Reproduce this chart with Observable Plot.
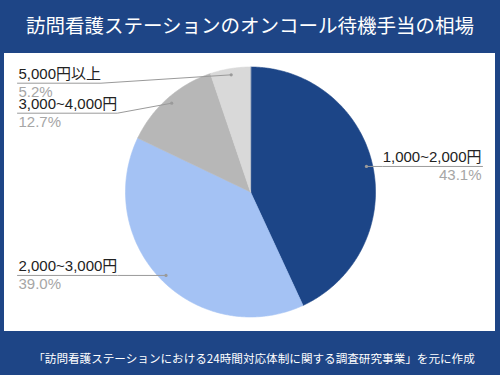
<!DOCTYPE html>
<html>
<head>
<meta charset="utf-8">
<script src="https://cdn.jsdelivr.net/npm/d3@7"></script>
<script src="https://cdn.jsdelivr.net/npm/@observablehq/plot@0.6"></script>
<style>
  html, body { margin: 0; padding: 0; }
  body { width: 500px; height: 375px; background: #1e4586; overflow: hidden; }
  #title { height: 53px; line-height: 50px; text-align: center; color: #fff;
           font-family: "Noto Sans CJK JP", sans-serif; font-size: 19.5px; font-weight: 400; }
  #chart { margin-left: 4px; width: 491px; height: 278px; background: #fff; }
  #chart svg { display: block; }
  #caption { height: 44px; line-height: 54px; text-align: center; color: #fff; padding-left: 8px;
             font-family: "Noto Sans CJK JP", sans-serif; font-size: 11.6px; font-weight: 400; }
</style>
</head>
<body>
<div id="title">訪問看護ステーションのオンコール待機手当の相場</div>
<div id="chart"></div>
<div id="caption">「訪問看護ステーションにおける24時間対応体制に関する調査研究事業」を元に作成</div>
<script>
// ---- data ----
const categories = ["1,000~2,000円", "2,000~3,000円", "3,000~4,000円", "5,000円以上"];
const shares = [43.1, 39.0, 12.7, 5.2];
const percentLabels = ["43.1%", "39.0%", "12.7%", "5.2%"];
const sliceColors = ["#1c4587", "#a4c2f4", "#b7b7b7", "#d9d9d9"];

// ---- layout ----
const W = 491, H = 278;
const cx = 246, cy = 138.5, R = 125;
const labelFont = "15px 'Liberation Sans', 'Noto Sans CJK JP', sans-serif";
const leftX = 14, rightX = 477, topLimit = 29.7, spacing = 30;

const total = d3.sum(shares);
const ctx = document.createElement("canvas").getContext("2d");
ctx.font = labelFont;

// slices
let acc = 0;
const slices = categories.map((c, i) => {
  const a0 = acc / total * 2 * Math.PI;
  acc += shares[i];
  const a1 = acc / total * 2 * Math.PI;
  return {c, i, a0, a1, mid: (a0 + a1) / 2};
});
const pt = (a, r) => ({x: cx + r * Math.sin(a), y: cy - r * Math.cos(a)});

const slicePolys = slices.map(s => {
  const n = Math.max(2, Math.ceil((s.a1 - s.a0) / (Math.PI / 360)));
  const pts = [{x: cx, y: cy}];
  for (let k = 0; k <= n; k++) pts.push(pt(s.a0 + (s.a1 - s.a0) * k / n, R));
  return pts;
});

// label anchors
const anchors = slices.map(s => {
  const p = pt(s.mid, R * 0.95);
  return {...s, dx: p.x, dy: p.y, right: p.x > cx, w: ctx.measureText(s.c).width};
});
// stack labels per side from the top
[true, false].forEach(side => {
  const group = anchors.filter(a => a.right === side).sort((a, b) => a.dy - b.dy);
  let prev = -Infinity;
  group.forEach(a => {
    a.uy = Math.max(a.dy, topLimit, prev + spacing);
    prev = a.uy;
  });
});

const leaders = [];
anchors.forEach(a => {
  if (a.right) {
    const bx = Math.max(a.dx, rightX - a.w);
    leaders.push({k: a.i, x: a.dx, y: a.dy}, {k: a.i, x: bx, y: a.uy}, {k: a.i, x: rightX + 1, y: a.uy});
  } else {
    const bx = Math.min(a.dx, leftX + a.w);
    leaders.push({k: a.i, x: a.dx, y: a.dy}, {k: a.i, x: bx, y: a.uy}, {k: a.i, x: leftX - 1, y: a.uy});
  }
});

const rightA = anchors.filter(a => a.right);
const leftA = anchors.filter(a => !a.right);
const textFont = "'Liberation Sans', 'Noto Sans CJK JP', sans-serif";
const labelMarks = (data, x, anchor) => [
  Plot.text(data, {x: () => x, y: a => a.uy - 4.5, text: "c", textAnchor: anchor, lineAnchor: "bottom",
    fontSize: 15, fontFamily: textFont, fill: "#222"}),
  Plot.text(data, {x: () => x, y: a => a.uy + 13.5, text: a => percentLabels[a.i], textAnchor: anchor,
    lineAnchor: "bottom", fontSize: 15, fontFamily: textFont, fill: "#a6a6a6"})
];

const plot = Plot.plot({
  width: W, height: H, margin: 0,
  x: {domain: [0, W], range: [0, W], axis: null},
  y: {domain: [0, H], range: [0, H], axis: null},
  style: {background: "#fff"},
  marks: [
    ...slicePolys.map((pts, i) => Plot.line(pts, {x: "x", y: "y", fill: sliceColors[i], stroke: sliceColors[i], strokeWidth: 0.6, curve: "linear-closed"})),
    Plot.line(leaders, {x: "x", y: "y", z: "k", stroke: "#9a9a9a", strokeWidth: 1}),
    Plot.dot(anchors, {x: "dx", y: "dy", r: 1.6, fill: "#9a9a9a", stroke: null}),
    ...labelMarks(leftA, leftX, "start"),
    ...labelMarks(rightA, rightX, "end")
  ]
});
document.getElementById("chart").appendChild(plot);
</script>
</body>
</html>
